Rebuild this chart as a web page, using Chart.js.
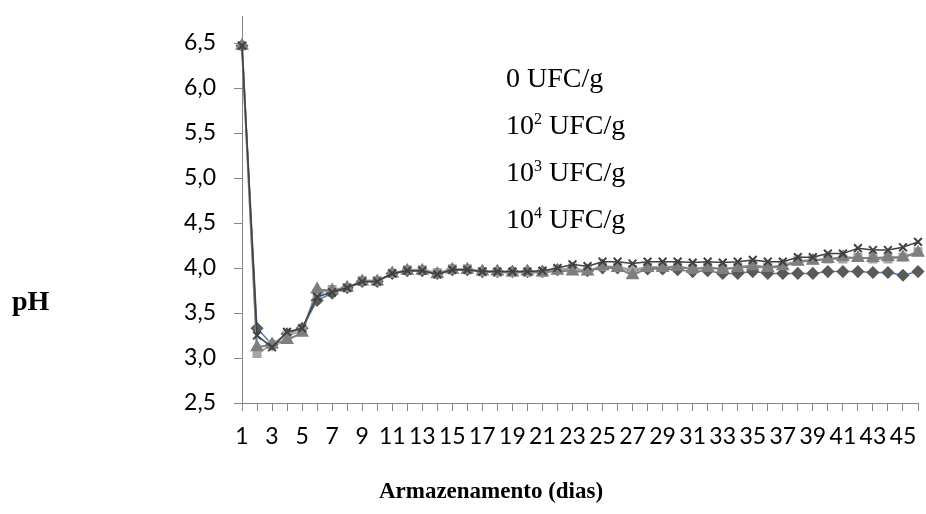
<!DOCTYPE html>
<html>
<head>
<meta charset="utf-8">
<script src="https://cdn.jsdelivr.net/npm/chart.js@4.4.0/dist/chart.umd.min.js"></script>
<style>
  html, body { margin: 0; padding: 0; background: #fff; }
</style>
</head>
<body>
<canvas id="phChart" width="926" height="514"></canvas>
<script>
const days = ["1", "2", "3", "4", "5", "6", "7", "8", "9", "10", "11", "12", "13", "14", "15", "16",
    "17", "18", "19", "20", "21", "22", "23", "24", "25", "26", "27", "28", "29", "30", "31", "32",
    "33", "34", "35", "36", "37", "38", "39", "40", "41", "42", "43", "44", "45", "46"];

const seriesNames = ["0 UFC/g", "10² UFC/g", "10³ UFC/g", "10⁴ UFC/g"];

const ph0 = [6.47, 3.33, 3.15, 3.27, 3.33, 3.64, 3.72, 3.78, 3.85, 3.85, 3.94, 3.97, 3.97, 3.94, 3.98, 3.98,
    3.96, 3.96, 3.96, 3.96, 3.96, 3.98, 3.99, 3.97, 4.0, 4.0, 3.98, 3.99, 3.99, 3.98, 3.96, 3.97,
    3.94, 3.94, 3.96, 3.94, 3.94, 3.94, 3.94, 3.96, 3.96, 3.96, 3.95, 3.95, 3.92, 3.96];
const ph2 = [6.47, 3.05, 3.15, 3.25, 3.3, 3.72, 3.76, 3.78, 3.86, 3.86, 3.94, 3.98, 3.98, 3.95, 3.99, 3.99,
    3.96, 3.95, 3.95, 3.95, 3.95, 3.98, 4.0, 3.97, 4.02, 4.01, 3.98, 4.01, 4.01, 4.02, 3.99, 4.01,
    3.99, 4.01, 4.03, 4.01, 4.03, 4.08, 4.09, 4.1, 4.1, 4.12, 4.1, 4.1, 4.12, 4.18];
const ph3 = [6.47, 3.12, 3.15, 3.2, 3.28, 3.76, 3.75, 3.78, 3.85, 3.85, 3.94, 3.97, 3.97, 3.93, 3.98, 3.98,
    3.96, 3.96, 3.95, 3.96, 3.95, 3.97, 3.96, 3.96, 4.02, 4.0, 3.92, 4.0, 4.0, 4.01, 3.99, 4.0,
    3.99, 4.0, 4.02, 4.0, 4.02, 4.07, 4.08, 4.1, 4.12, 4.11, 4.11, 4.12, 4.12, 4.17];
const ph4 = [6.47, 3.25, 3.12, 3.29, 3.33, 3.68, 3.73, 3.78, 3.85, 3.85, 3.94, 3.97, 3.97, 3.93, 3.98, 3.98,
    3.96, 3.96, 3.96, 3.96, 3.97, 4.0, 4.04, 4.02, 4.07, 4.07, 4.05, 4.07, 4.07, 4.07, 4.06, 4.07,
    4.06, 4.07, 4.09, 4.07, 4.07, 4.12, 4.12, 4.16, 4.16, 4.22, 4.2, 4.2, 4.23, 4.29];

const yTicks = [2.5, 3.0, 3.5, 4.0, 4.5, 5.0, 5.5, 6.0, 6.5];
const xTitle = "Armazenamento (dias)";
const yTitle = "pH";

const axisGray = "#868686";
const supMap = { "²": "2", "³": "3", "⁴": "4" };

// titles and the text-only legend, drawn in Times-like serif like the original
const textPlugin = {
    id: "textPlugin",
    afterDraw(chart) {
        const ctx = chart.ctx;
        ctx.save();
        ctx.fillStyle = "#000";
        ctx.textBaseline = "alphabetic";

        ctx.font = 'bold 28px "Liberation Serif"';
        ctx.textAlign = "left";
        ctx.fillText(yTitle, 12, 310);

        ctx.font = 'bold 23px "Liberation Serif"';
        ctx.textAlign = "center";
        ctx.fillText(xTitle, 491, 498);

        ctx.textAlign = "left";
        seriesNames.forEach((name, i) => {
            const baseY = 87 + i * 47;
            let x = 506;
            for (const ch of name) {
                if (supMap[ch]) {
                    ctx.font = '16px "Liberation Serif"';
                    ctx.fillText(supMap[ch], x, baseY - 10);
                    x += ctx.measureText(supMap[ch]).width;
                } else {
                    ctx.font = '28px "Liberation Serif"';
                    ctx.fillText(ch, x, baseY);
                    x += ctx.measureText(ch).width;
                }
            }
        });
        ctx.restore();
    },
};

function renderPhChart() {
    const ctx = document.getElementById("phChart").getContext("2d");

    new Chart(ctx, {
        type: "line",
        data: {
            labels: days,
            datasets: [
                {
                    label: seriesNames[0],
                    data: ph0,
                    borderColor: "#4a7ebb",
                    borderWidth: 1.5,
                    pointStyle: "rectRot",
                    pointRadius: 5.5,
                    pointBackgroundColor: "#5a5a5a",
                    pointBorderColor: "#5a5a5a",
                    order: 3,
                },
                {
                    label: seriesNames[1],
                    data: ph2,
                    borderColor: "#a6a6a6",
                    borderWidth: 2,
                    pointStyle: "rect",
                    pointRadius: 5,
                    pointBackgroundColor: "#a6a6a6",
                    pointBorderColor: "#a6a6a6",
                    order: 2,
                },
                {
                    label: seriesNames[2],
                    data: ph3,
                    borderColor: "#808080",
                    borderWidth: 2,
                    pointStyle: "triangle",
                    pointRadius: 6,
                    pointBackgroundColor: "#7f7f7f",
                    pointBorderColor: "#7f7f7f",
                    order: 1,
                },
                {
                    label: seriesNames[3],
                    data: ph4,
                    borderColor: "#404040",
                    borderWidth: 1.5,
                    pointStyle: "crossRot",
                    pointRadius: 5.5,
                    pointBorderWidth: 2,
                    pointBackgroundColor: "#404040",
                    pointBorderColor: "#404040",
                    order: 0,
                },
            ],
        },
        options: {
            responsive: false,
            animation: false,
            devicePixelRatio: 1,
            layout: {
                padding: { top: 16, right: 1, left: 0, bottom: 0 },
            },
            scales: {
                x: {
                    offset: false,
                    border: { color: axisGray, width: 1 },
                    grid: {
                        drawOnChartArea: false,
                        drawTicks: true,
                        tickLength: 8,
                        color: axisGray,
                    },
                    ticks: {
                        autoSkip: false,
                        maxRotation: 0,
                        padding: 12,
                        color: "#000",
                        font: { family: "Lato", size: 23 },
                        callback: function (val, idx) {
                            return idx % 2 === 0 ? days[idx] : "";
                        },
                    },
                    afterFit: function (scale) {
                        scale.height = 111;
                        scale.paddingLeft = 0;
                        scale.paddingRight = 0;
                    },
                },
                y: {
                    min: 2.5,
                    max: 6.8,
                    border: { color: axisGray, width: 1 },
                    grid: {
                        drawOnChartArea: false,
                        drawTicks: true,
                        tickLength: 8,
                        color: axisGray,
                    },
                    ticks: {
                        padding: 18,
                        color: "#000",
                        font: { family: "Lato", size: 23 },
                        callback: function (value) {
                            return value.toFixed(1).replace(".", ",");
                        },
                    },
                    afterBuildTicks: function (scale) {
                        scale.ticks = yTicks.map((v) => ({ value: v }));
                    },
                    afterFit: function (scale) {
                        scale.width = 242;
                        scale.paddingTop = 0;
                        scale.paddingBottom = 0;
                    },
                },
            },
            plugins: {
                legend: { display: false },
                tooltip: { enabled: false },
            },
        },
        plugins: [textPlugin],
    });
}

renderPhChart();
</script>
</body>
</html>
